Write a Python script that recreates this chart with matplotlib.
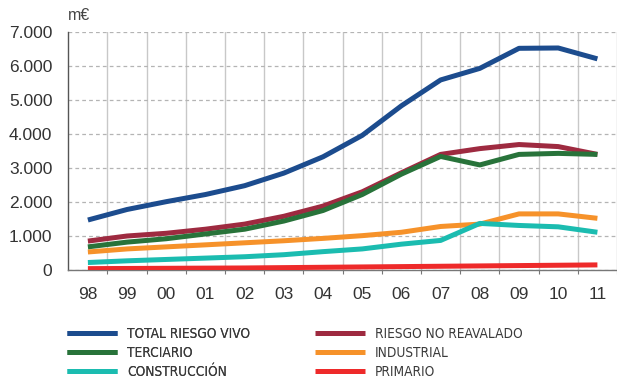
import numpy as np
import matplotlib.pyplot as plt
from matplotlib.font_manager import FontProperties

years = ['98', '99', '00', '01', '02', '03', '04', '05', '06', '07', '08', '09', '10', '11']

total_riesgo_vivo = [1470, 1780, 2010, 2220, 2480, 2850, 3330, 3960, 4830, 5590, 5930, 6520, 6530, 6210]
riesgo_no_reavalado = [850, 1000, 1080, 1200, 1350, 1580, 1880, 2300, 2860, 3400, 3570, 3690, 3630, 3400]
terciario = [680, 820, 920, 1060, 1200, 1440, 1750, 2220, 2820, 3340, 3090, 3400, 3430, 3400]
industrial = [530, 620, 680, 740, 800, 860, 930, 1010, 1110, 1280, 1350, 1650, 1650, 1520]
construccion = [220, 270, 310, 350, 390, 450, 540, 620, 760, 870, 1370, 1310, 1270, 1110]
primario = [40, 45, 50, 55, 60, 70, 80, 90, 100, 110, 120, 130, 140, 150]

plt.rcParams['font.family'] = ['Liberation Sans', 'DejaVu Sans']

fig = plt.figure(figsize=(6.17, 3.80), dpi=100)
ax = fig.add_axes([68.3 / 617, 1 - 270 / 380, 1 - 68.3 / 617, (270 - 32) / 380])

x = np.arange(len(years))
lw = 3.6
ax.plot(x, primario, color='#ee2a2a', lw=lw, solid_capstyle='butt', zorder=3)
ax.plot(x, industrial, color='#f6922a', lw=lw, solid_capstyle='butt', zorder=3)
ax.plot(x, construccion, color='#1bbcb0', lw=lw, solid_capstyle='butt', zorder=3)
ax.plot(x, riesgo_no_reavalado, color='#9e2a40', lw=lw, solid_capstyle='butt', zorder=3)
ax.plot(x, terciario, color='#28733a', lw=lw, solid_capstyle='butt', zorder=3)
ax.plot(x, total_riesgo_vivo, color='#1c4c8e', lw=lw, solid_capstyle='butt', zorder=3)

ax.set_xlim(-0.5, 13.43)
ax.set_ylim(0, 7000)

# year labels in the middle, grid at the category edges
ax.set_xticks(x)
ax.set_xticklabels(years)
ax.set_xticks(np.arange(len(years)) + 0.5, minor=True)
ax.tick_params(axis='x', which='major', length=0, pad=12, labelsize=12.5, colors='#333333')
ax.tick_params(axis='x', which='minor', length=3, width=0.8, color='#777777')
ax.grid(axis='x', which='minor', color='#c8c8c8', lw=1, ls='-')

ax.set_yticks(range(0, 7001, 1000))
ax.set_yticklabels(['0', '1.000', '2.000', '3.000', '4.000', '5.000', '6.000', '7.000'])
ax.tick_params(axis='y', length=0, pad=11.5, labelsize=12.5, colors='#333333')
ax.grid(axis='y', color='#b4b4b4', lw=0.9, ls=(0, (3, 2.5)))

for s in ['top', 'right']:
    ax.spines[s].set_visible(False)
ax.spines['left'].set_color('#555555')
ax.spines['bottom'].set_color('#777777')
ax.spines['left'].set_linewidth(1)
ax.spines['bottom'].set_linewidth(1)

fig.text(68 / 617, 1 - 16 / 380, 'm€', fontsize=11.5, color='#444444', va='center', ha='left')

# legend, two columns
legfont = FontProperties(family='DejaVu Sans', stretch='condensed', size=9.8)
h = ax.get_lines()
leg1 = fig.legend([h[5], h[4], h[2]], ['TOTAL RIESGO VIVO', 'TERCIARIO', 'CONSTRUCCIÓN'],
                  loc='upper left', bbox_to_anchor=(66.7 / 617, 1 - 326.5 / 380), frameon=False,
                  handlelength=3.7, handletextpad=0.72, labelspacing=0.38,
                  prop=legfont, labelcolor='#3a3a3a',
                  borderpad=0, borderaxespad=0)
fig.legend([h[3], h[1], h[0]], ['RIESGO NO REAVALADO', 'INDUSTRIAL', 'PRIMARIO'],
           loc='upper left', bbox_to_anchor=(315 / 617, 1 - 326.5 / 380), frameon=False,
           handlelength=3.7, handletextpad=0.72, labelspacing=0.38,
           prop=legfont, labelcolor='#3a3a3a',
           borderpad=0, borderaxespad=0)
fig.add_artist(leg1)

fig.savefig('out.png', dpi=100)
